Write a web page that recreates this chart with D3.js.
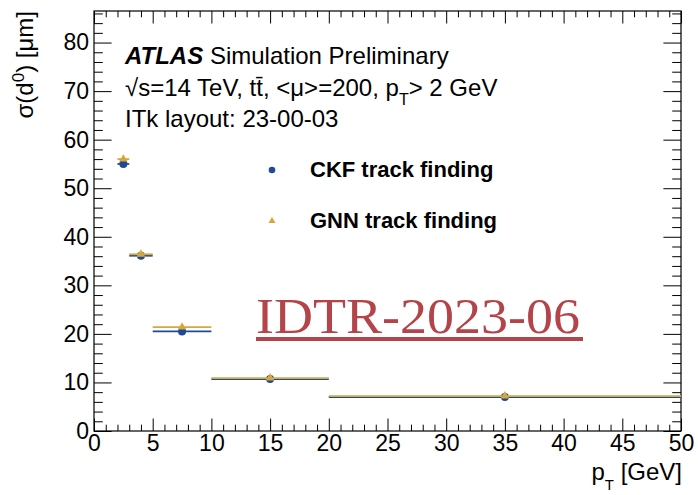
<!DOCTYPE html>
<html>
<head>
<meta charset="utf-8">
<script src="https://cdn.jsdelivr.net/npm/d3@7"></script>
<style>
  body { margin: 0; background: #fff; }
  svg text { font-family: "Liberation Sans", Arial, Helvetica, sans-serif; }
</style>
</head>
<body>
<div id="chart"></div>
<script>
// pT bins [GeV] and resolution values [um]
var binLo = [2, 3, 5, 10, 20];
var binHi = [3, 5, 10, 20, 50];
var ptCenter = [2.5, 4, 7.5, 15, 35];
var ckfValues = [55.0, 36.1, 20.5, 10.7, 7.0];
var gnnValues = [56.0, 36.4, 21.4, 10.9, 7.2];
var xTicks = [0, 5, 10, 15, 20, 25, 30, 35, 40, 45, 50];
var yTicks = [0, 10, 20, 30, 40, 50, 60, 70, 80];

var width = 698, height = 495;
var margin = {top: 11, right: 17, bottom: 64, left: 94};
var w = width - margin.left - margin.right;
var h = height - margin.top - margin.bottom;

var blue = "#1f4a97", gold = "#d6a83c";

var svg = d3.select("#chart").append("svg")
  .attr("width", width)
  .attr("height", height);

var g = svg.append("g")
  .attr("transform", "translate(" + margin.left + "," + margin.top + ")");

var x = d3.scaleLinear().domain([0, 50]).range([0, w]);
var y = d3.scaleLinear().domain([0, 86.5]).range([h, 0]);

var minorX = d3.range(0, 51, 1).filter(function(d){ return d % 5 != 0; });
var minorY = d3.range(0, 87, 2).filter(function(d){ return d % 10 != 0; });
var majorY = d3.range(0, 87, 10);

// ticks on all four sides, pointing inward (ROOT style)
function styleAxis(sel) {
  sel.select(".domain").remove();
  sel.selectAll("line").attr("stroke", "#000").attr("stroke-width", 1);
  sel.selectAll("text").attr("font-size", 23).attr("fill", "#000");
}

g.append("g").attr("transform", "translate(0," + h + ")")
  .call(d3.axisBottom(x).tickValues(xTicks).tickSize(-12.5).tickPadding(4).tickFormat(d3.format("d")))
  .call(styleAxis);
g.append("g").attr("transform", "translate(0," + h + ")")
  .call(d3.axisBottom(x).tickValues(minorX).tickSize(-6.3).tickFormat(""))
  .call(styleAxis);
g.append("g")
  .call(d3.axisTop(x).tickValues(xTicks).tickSize(-12.5).tickFormat(""))
  .call(styleAxis);
g.append("g")
  .call(d3.axisTop(x).tickValues(minorX).tickSize(-6.3).tickFormat(""))
  .call(styleAxis);

g.append("g")
  .call(d3.axisLeft(y).tickValues(yTicks).tickSize(-17.6).tickPadding(5).tickFormat(d3.format("d")))
  .call(styleAxis);
g.append("g")
  .call(d3.axisLeft(y).tickValues(minorY).tickSize(-8.8).tickFormat(""))
  .call(styleAxis);
g.append("g").attr("transform", "translate(" + w + ",0)")
  .call(d3.axisRight(y).tickValues(majorY).tickSize(-17.6).tickFormat(""))
  .call(styleAxis);
g.append("g").attr("transform", "translate(" + w + ",0)")
  .call(d3.axisRight(y).tickValues(minorY).tickSize(-8.8).tickFormat(""))
  .call(styleAxis);

// frame
g.append("rect")
  .attr("x", 0).attr("y", 0)
  .attr("width", w).attr("height", h)
  .attr("fill", "none")
  .attr("stroke", "#000")
  .attr("stroke-width", 1.2);

// watermark
var wm = g.append("g");
wm.append("text")
  .attr("x", 256 - margin.left)
  .attr("y", 333 - margin.top)
  .attr("textLength", 324)
  .attr("lengthAdjust", "spacingAndGlyphs")
  .style("font-family", "'Liberation Serif', 'DejaVu Serif', serif")
  .attr("font-size", 50)
  .attr("fill", "#b3454a")
  .text("IDTR-2023-06");
wm.append("rect")
  .attr("x", 256 - margin.left)
  .attr("y", 337 - margin.top)
  .attr("width", 327)
  .attr("height", 4)
  .attr("fill", "#b3454a");

// data: CKF (blue circles), then GNN (gold triangles)
var idx = d3.range(ptCenter.length);

g.append("g").selectAll("line")
  .data(idx).enter().append("line")
  .attr("x1", function(i){ return x(binLo[i]); })
  .attr("x2", function(i){ return x(binHi[i]); })
  .attr("y1", function(i){ return y(ckfValues[i]); })
  .attr("y2", function(i){ return y(ckfValues[i]); })
  .attr("stroke", blue)
  .attr("stroke-width", 1.8);

g.append("g").selectAll("circle")
  .data(idx).enter().append("circle")
  .attr("cx", function(i){ return x(ptCenter[i]); })
  .attr("cy", function(i){ return y(ckfValues[i]); })
  .attr("r", 4)
  .attr("fill", blue);

g.append("g").selectAll("line")
  .data(idx).enter().append("line")
  .attr("x1", function(i){ return x(binLo[i]); })
  .attr("x2", function(i){ return x(binHi[i]); })
  .attr("y1", function(i){ return y(gnnValues[i]); })
  .attr("y2", function(i){ return y(gnnValues[i]); })
  .attr("stroke", gold)
  .attr("stroke-width", 1.8);

var tri = d3.symbol().type(d3.symbolTriangle).size(32);
g.append("g").selectAll("path")
  .data(idx).enter().append("path")
  .attr("d", tri)
  .attr("transform", function(i){ return "translate(" + x(ptCenter[i]) + "," + y(gnnValues[i]) + ")"; })
  .attr("fill", gold);

// labels
var t1 = svg.append("text").attr("x", 125).attr("y", 64).attr("font-size", 24);
t1.append("tspan").attr("font-weight", "bold").attr("font-style", "italic").text("ATLAS");
t1.append("tspan").text(" Simulation Preliminary");

var t2 = svg.append("text").attr("x", 125).attr("y", 95.5).attr("font-size", 24);
t2.append("tspan").text("\u221As=14 TeV, tt\u0304, <\u03BC>=200, p");
t2.append("tspan").attr("font-size", 16).attr("dy", 9).text("T");
t2.append("tspan").attr("dy", -9).text("> 2 GeV");

svg.append("text").attr("x", 125).attr("y", 127).attr("font-size", 24)
  .text("ITk layout: 23-00-03");

// legend
svg.append("circle").attr("cx", 272).attr("cy", 170).attr("r", 3.3).attr("fill", blue);
svg.append("path").attr("d", d3.symbol().type(d3.symbolTriangle).size(22))
  .attr("transform", "translate(272,221)").attr("fill", gold);
svg.append("text").attr("x", 310).attr("y", 177).attr("font-size", 22).attr("font-weight", "bold")
  .text("CKF track finding");
svg.append("text").attr("x", 310).attr("y", 228).attr("font-size", 22).attr("font-weight", "bold")
  .text("GNN track finding");

// axis titles
var xt = svg.append("text").attr("x", 682).attr("y", 480).attr("font-size", 24)
  .attr("text-anchor", "end");
xt.append("tspan").text("p");
xt.append("tspan").attr("font-size", 15).attr("dy", 10).text("T");
xt.append("tspan").attr("dy", -10).text(" [GeV]");

var yt = svg.append("text").attr("transform", "translate(33,11) rotate(-90)")
  .attr("font-size", 24).attr("text-anchor", "end");
yt.append("tspan").text("\u03C3(d");
yt.append("tspan").attr("font-size", 17).attr("dy", -9).text("0");
yt.append("tspan").attr("dy", 9).text(") [\u03BCm]");
</script>
</body>
</html>
